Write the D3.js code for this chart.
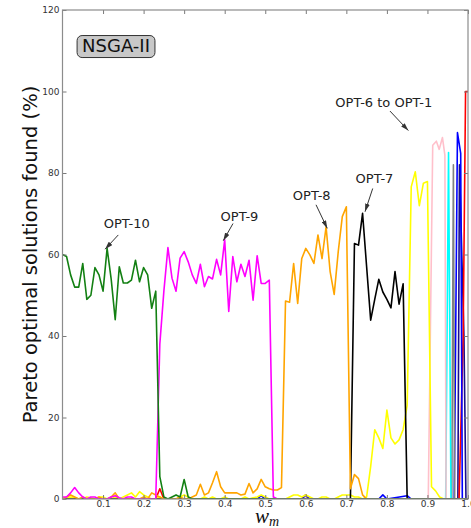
<!DOCTYPE html>
<html>
<head>
<meta charset="utf-8">
<script src="https://cdn.jsdelivr.net/npm/d3@7"></script>
<style>
    body { margin: 0; background: #fff; }
    svg { display: block; font-family: "DejaVu Sans", sans-serif; }
</style>
</head>
<body>
<div id="chart-container"></div>
<script>
// Weight w_m sampled every 0.01
const wm = [
    0.00, 0.01, 0.02, 0.03, 0.04, 0.05, 0.06, 0.07, 0.08, 0.09,
    0.10, 0.11, 0.12, 0.13, 0.14, 0.15, 0.16, 0.17, 0.18, 0.19,
    0.20, 0.21, 0.22, 0.23, 0.24, 0.25, 0.26, 0.27, 0.28, 0.29,
    0.30, 0.31, 0.32, 0.33, 0.34, 0.35, 0.36, 0.37, 0.38, 0.39,
    0.40, 0.41, 0.42, 0.43, 0.44, 0.45, 0.46, 0.47, 0.48, 0.49,
    0.50, 0.51, 0.52, 0.53, 0.54, 0.55, 0.56, 0.57, 0.58, 0.59,
    0.60, 0.61, 0.62, 0.63, 0.64, 0.65, 0.66, 0.67, 0.68, 0.69,
    0.70, 0.71, 0.72, 0.73, 0.74, 0.75, 0.76, 0.77, 0.78, 0.79,
    0.80, 0.81, 0.82, 0.83, 0.84, 0.85, 0.86, 0.87, 0.88, 0.89,
    0.90, 0.91, 0.92, 0.93, 0.94, 0.95, 0.96, 0.97, 0.98, 0.99,
    1.00
];

// Pareto optimal solutions found (%) per optimum, on the wm grid
const opt10 = [
    60, 59.5, 55, 52, 52, 57.8, 49, 50, 56.8, 55,
    51, 61.5, 54, 44, 57, 53, 53, 53.7, 58.6, 53.3,
    56.8, 55, 46.8, 51, 5.5, 0.5, 0, 0.5, 1, 0.5,
    4.8, 0.5, 0, 0, 0, 0, 0, 0, 0, 0,
    0, 0, 0, 0, 0, 0, 0, 0, 0, 0,
    0, 0, 0, 0, 0, 0, 0, 0, 0, 0,
    0, 0, 0, 0, 0, 0, 0, 0, 0, 0,
    0, 0, 0, 0, 0, 0, 0, 0, 0, 0,
    0, 0, 0, 0, 0, 0, 0, 0, 0, 0,
    0, 0, 0, 0, 0, 0, 0, 0, 0, 0,
    0
];
const opt9 = [
    0.5, 0.5, 1.5, 2.8, 1.5, 0.5, 0, 0.5, 0.5, 0,
    0, 0, 0.5, 0.8, 0.3, 0, 0.5, 0.5, 0, 0,
    0, 0, 0, 0, 38, 51, 61.7, 54.2, 51, 59.1,
    60.7, 58.2, 55, 52.9, 57.6, 52.1, 54.6, 54, 58.8, 55,
    63.6, 46, 59.5, 53.3, 57.6, 54.6, 58.6, 48.8, 59.7, 52.9,
    52.9, 53.7, 0.5, 0, 0, 0, 0, 0, 0, 0,
    0, 0, 0, 0, 0, 0, 0, 0, 0, 0,
    0, 0, 0, 0, 0, 0, 0, 0, 0, 0,
    0, 0, 0, 0, 0, 0, 0, 0, 0, 0,
    0, 0, 0, 0, 0, 0, 0, 0, 0, 0,
    0
];
const opt8 = [
    0, 0.5, 1, 0.5, 0, 0.5, 0, 0, 0, 0.5,
    0, 0, 0.5, 1.5, 0, 0, 0, 0, 0, 0,
    0.5, 0, 1.5, 1, 0.5, 0, 0, 0, 0, 0.5,
    0, 0, 0.5, 1, 3.6, 1, 1.5, 4, 6.7, 3,
    1.5, 1.5, 1.5, 1.5, 1, 1.2, 3.8, 1.5, 2.5, 4.8,
    3, 2.5, 2.2, 2.2, 2.8, 48.6, 48.3, 57.8, 48, 59,
    61.5, 59.9, 57.8, 64.8, 59, 66.8, 55.8, 50.2, 60.7, 69.3,
    71.7, 2.5, 6, 5, 1, 0, 0, 0, 0, 0,
    0, 0, 0, 0, 0, 0, 0, 0, 0, 0,
    0, 0, 0, 0, 0, 0, 0, 0, 0, 0,
    0
];
const opt7 = [
    0, 0, 0, 0, 0, 0, 0, 0, 0, 0,
    0, 0, 0, 0, 0, 0, 0, 0, 0, 0,
    0, 0, 0, 0, 0, 0, 0, 0, 0, 0,
    0, 0, 0, 0, 0, 0, 0, 0, 0, 0,
    0, 0, 0, 0, 0, 0, 0, 0, 0, 0,
    0, 0, 0, 0, 0, 0, 0, 0, 0, 0,
    0, 0, 0, 0, 0, 0, 0, 0, 0, 0,
    0, 0, 62.7, 62.3, 70.1, 57, 43.9, 49, 53.9, 50.8,
    49, 46.9, 55.8, 47.8, 52.8, 0, 0, 0, 0, 0,
    0, 0, 0, 0, 0, 0, 0, 0, 0, 0,
    0
];
const opt6 = [
    0.3, 0.3, 0.5, 0.3, 0, 0, 0.5, 0.3, 0, 0.5,
    0.5, 0, 0, 0.5, 0, 0.5, 1, 1.5, 0.5, 1.8,
    1, 0.5, 0, 0, 0.5, 0, 0, 0, 0, 0.5,
    1, 0.5, 0, 0, 0, 0.5, 0, 0.5, 0, 0,
    0.5, 0, 0, 0, 0, 0.5, 0, 0.3, 0.5, 1,
    0.5, 0, 0, 0, 0, 0, 0.5, 1, 1, 0.5,
    1, 0.5, 0, 0, 0.5, 0.5, 0, 0, 0.5, 1,
    1, 1, 0.5, 0.5, 0, 0.5, 8, 17, 15, 12.4,
    21.8, 15, 13.5, 14.5, 17, 23, 76.6, 80.3, 72, 77.5,
    77.9, 3, 2, 0.5, 0, 0, 0, 0, 0, 0,
    0
];

// Narrow peaks near w_m = 1 (own w_m points)
const opt5X = [0, 0.902, 0.913, 0.922, 0.929, 0.937, 0.943, 0.946, 1];
const opt5Y = [0, 0, 86.8, 87.8, 85.8, 88.7, 84.4, 0, 0];
const opt4X = [0, 0.945, 0.952, 0.958, 1];
const opt4Y = [0, 0, 85, 0, 0];
const opt3X = [0, 0.96, 0.964, 0.967, 1];
const opt3Y = [0, 0, 82, 0, 0];
const opt2X = [0, 0.48, 0.49, 0.5, 0.59, 0.6, 0.61, 0.78, 0.79, 0.8, 0.85, 0.86, 0.966, 0.974, 0.982, 0.986, 1];
const opt2Y = [0, 0, 0.8, 0, 0, 1, 0, 0, 1, 0, 0.8, 0, 0, 89.9, 84.8, 0, 0];
const opt1bX = [0, 0.975, 0.979, 0.99, 0.995, 1];
const opt1bY = [0, 0, 82, 40, 0, 0];
const opt1X = [0, 0.23, 0.24, 0.25, 0.59, 0.6, 0.61, 0.978, 0.988, 0.994, 1];
const opt1Y = [0, 0, 2.5, 0, 0, 1, 0, 0, 40, 100, 100];

// Tick labels
const xTicks = [0.1, 0.2, 0.3, 0.4, 0.5, 0.6, 0.7, 0.8, 0.9, 1.0];
const yTicks = [0, 20, 40, 60, 80, 100, 120];

// Annotations: label, arrow head, arrow tail, text centre (data coords)
const annLabels = ["OPT-10", "OPT-9", "OPT-8", "OPT-7", "OPT-6 to OPT-1"];
const annHead = [[0.105, 61.3], [0.3965, 63.4], [0.653, 66.4], [0.746, 70.5], [0.853, 90.4]];
const annTail = [[0.1376, 64.8], [0.4205, 67.6], [0.6252, 72.2], [0.765, 76.2], [0.8076, 95.2]];
const annText = [[0.1583, 67.6], [0.4365, 69.4], [0.6146, 74.4], [0.7694, 78.7], [0.7924, 97.4]];

const series = [
    { x: opt1bX, y: opt1bY, color: "#1a0f8c" },
    { x: opt1X, y: opt1Y, color: "#ff0000" },
    { x: opt2X, y: opt2Y, color: "#0000ff" },
    { x: opt3X, y: opt3Y, color: "#808080" },
    { x: opt4X, y: opt4Y, color: "#00ffff" },
    { x: opt5X, y: opt5Y, color: "#ffc0cb" },
    { x: wm, y: opt6, color: "#ffff00" },
    { x: wm, y: opt7, color: "#000000" },
    { x: wm, y: opt8, color: "#ffa500" },
    { x: wm, y: opt9, color: "#ff00ff" },
    { x: wm, y: opt10, color: "#138013" },
];

// Chart dimensions
const width = 471;
const height = 528;
const plot = { left: 62.5, right: 468, top: 10, bottom: 499 };

const svg = d3.select("#chart-container")
    .append("svg")
    .attr("width", width)
    .attr("height", height);

const xScale = d3.scaleLinear().domain([0, 1]).range([plot.left, plot.right]);
const yScale = d3.scaleLinear().domain([0, 120]).range([plot.bottom, plot.top]);

const defs = svg.append("defs");
defs.append("clipPath").attr("id", "plot-clip")
    .append("rect")
    .attr("x", plot.left).attr("y", plot.top)
    .attr("width", plot.right - plot.left)
    .attr("height", plot.bottom - plot.top);

defs.append("marker")
    .attr("id", "arrow")
    .attr("viewBox", "0 0 10 6")
    .attr("refX", 10).attr("refY", 3)
    .attr("markerWidth", 8).attr("markerHeight", 5)
    .attr("markerUnits", "userSpaceOnUse")
    .attr("orient", "auto")
    .append("path")
    .attr("d", "M0,0 L10,3 L0,6 z")
    .attr("fill", "#333");

// Lines
const line = d3.line()
    .x(d => xScale(d[0]))
    .y(d => yScale(d[1]));

svg.append("g")
    .attr("clip-path", "url(#plot-clip)")
    .selectAll("path")
    .data(series)
    .enter()
    .append("path")
    .attr("d", s => line(s.x.map((v, i) => [v, s.y[i]])))
    .attr("fill", "none")
    .attr("stroke", s => s.color)
    .attr("stroke-width", 1.6)
    .attr("stroke-linejoin", "round");

// Axes (ticks pointing inward)
const tickColor = "#7a7a7a";
const styleAxis = (g) => {
    g.select(".domain").remove();
    g.selectAll(".tick line").attr("stroke", tickColor);
    g.selectAll(".tick text")
        .attr("fill", "#333")
        .style("font-size", "9px")
        .style("font-family", "'DejaVu Sans', sans-serif");
};

svg.append("g")
    .attr("transform", `translate(0, ${plot.bottom})`)
    .call(d3.axisBottom(xScale).tickValues(xTicks).tickFormat(d3.format(".1f"))
        .tickSizeInner(-4).tickSizeOuter(0).tickPadding(2))
    .call(styleAxis);

svg.append("g")
    .attr("transform", `translate(0, ${plot.top})`)
    .call(d3.axisTop(xScale).tickValues(xTicks).tickFormat("")
        .tickSizeInner(-4).tickSizeOuter(0))
    .call(styleAxis);

svg.append("g")
    .attr("transform", `translate(${plot.left}, 0)`)
    .call(d3.axisLeft(yScale).tickValues(yTicks).tickFormat(d3.format("d"))
        .tickSizeInner(-4).tickSizeOuter(0).tickPadding(3))
    .call(styleAxis);

svg.append("g")
    .attr("transform", `translate(${plot.right}, 0)`)
    .call(d3.axisRight(yScale).tickValues(yTicks).tickFormat("")
        .tickSizeInner(-4).tickSizeOuter(0))
    .call(styleAxis);

// Frame
svg.append("rect")
    .attr("x", plot.left).attr("y", plot.top)
    .attr("width", plot.right - plot.left)
    .attr("height", plot.bottom - plot.top)
    .attr("fill", "none")
    .attr("stroke", "#8c8c8c")
    .attr("stroke-width", 1.2);

// Axis labels
svg.append("text")
    .attr("transform", `translate(37, ${(plot.top + plot.bottom) / 2}) rotate(-90)`)
    .attr("text-anchor", "middle")
    .attr("fill", "#111")
    .style("font-size", "19.5px")
    .text("Pareto optimal solutions found (%)");

const xLabel = svg.append("text")
    .attr("x", 255).attr("y", 523)
    .attr("fill", "#111")
    .style("font-family", "'Liberation Serif', serif")
    .style("font-style", "italic");
xLabel.append("tspan").style("font-size", "21px").text("w");
xLabel.append("tspan").attr("dy", 3).style("font-size", "14px").text("m");

// NSGA-II badge
const badge = svg.append("g");
const badgeText = badge.append("text")
    .attr("x", xScale(0.132)).attr("y", yScale(111.4))
    .attr("text-anchor", "middle")
    .attr("dominant-baseline", "central")
    .attr("fill", "#111")
    .style("font-size", "18px")
    .text("NSGA-II");
const bb = badgeText.node().getBBox();
badge.insert("rect", "text")
    .attr("x", bb.x - 5).attr("y", bb.y + 1)
    .attr("width", bb.width + 10).attr("height", bb.height + 1)
    .attr("rx", 5).attr("ry", 5)
    .attr("fill", "#c8c8c8")
    .attr("stroke", "#333")
    .attr("stroke-width", 1);

// Annotations
const ann = svg.append("g");
annLabels.forEach((label, i) => {
    ann.append("line")
        .attr("x1", xScale(annTail[i][0])).attr("y1", yScale(annTail[i][1]))
        .attr("x2", xScale(annHead[i][0])).attr("y2", yScale(annHead[i][1]))
        .attr("stroke", "#333")
        .attr("stroke-width", 1)
        .attr("marker-end", "url(#arrow)");
    ann.append("text")
        .attr("x", xScale(annText[i][0])).attr("y", yScale(annText[i][1]))
        .attr("text-anchor", "middle")
        .attr("dominant-baseline", "central")
        .attr("fill", "#222")
        .style("font-size", "13px")
        .text(label);
});
</script>
</body>
</html>
